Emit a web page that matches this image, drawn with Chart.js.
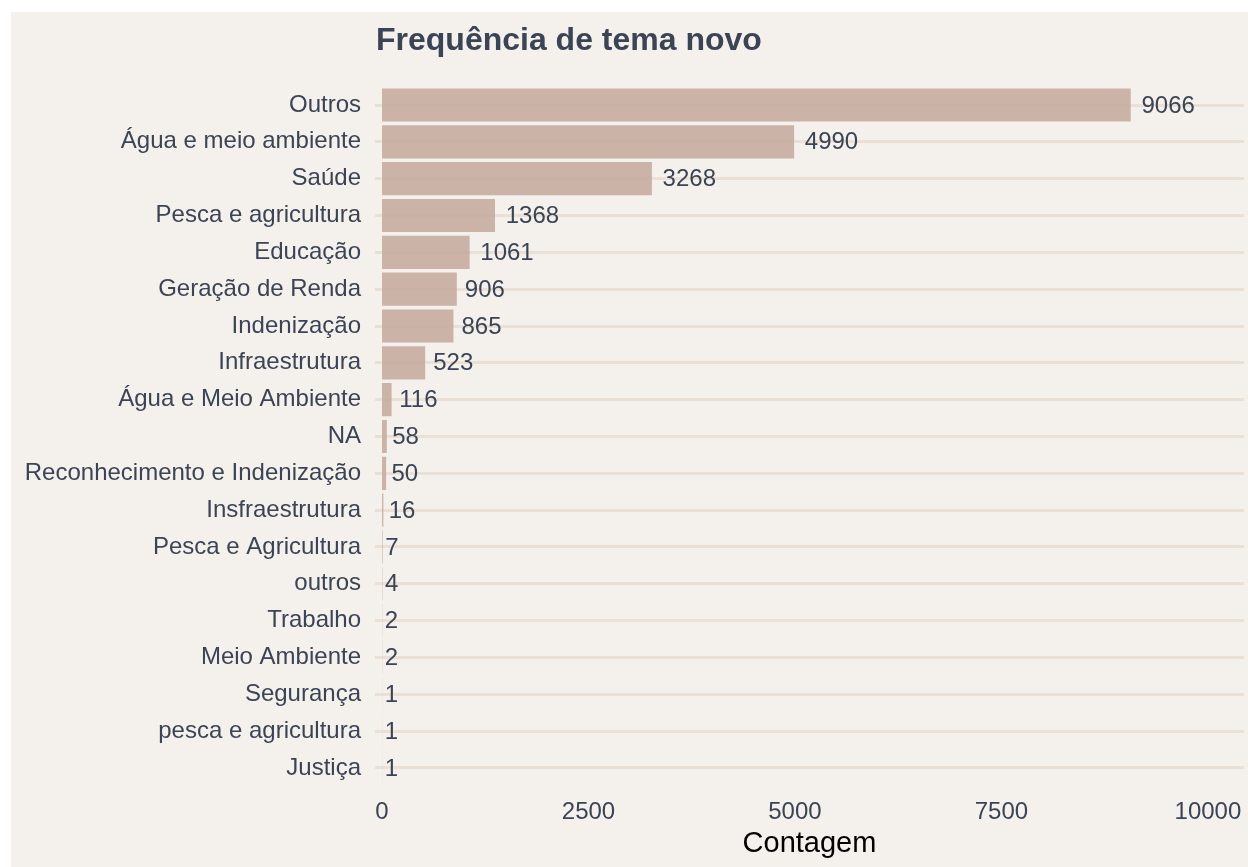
<!DOCTYPE html>
<html>
<head>
<meta charset="utf-8">
<title>Frequência de tema novo</title>
<script src="https://cdn.jsdelivr.net/npm/chart.js@4.4.1/dist/chart.umd.min.js"></script>
<style>
  html, body { margin: 0; padding: 0; background: #ffffff; overflow: hidden; }
  canvas { display: block; }
</style>
</head>
<body>
<canvas id="temaChart" width="1248" height="867"></canvas>
<script>
// Data
const categories = [
  'Outros', 'Água e meio ambiente', 'Saúde', 'Pesca e agricultura', 'Educação',
  'Geração de Renda', 'Indenização', 'Infraestrutura', 'Água e Meio Ambiente', 'NA',
  'Reconhecimento e Indenização', 'Insfraestrutura', 'Pesca e Agricultura', 'outros',
  'Trabalho', 'Meio Ambiente', 'Segurança', 'pesca e agricultura', 'Justiça'
];
const counts = [9066, 4990, 3268, 1368, 1061, 906, 865, 523, 116, 58, 50, 16, 7, 4, 2, 2, 1, 1, 1];
const xTicks = [0, 2500, 5000, 7500, 10000];

const titleText = 'Frequência de tema novo';
const axisTitle = 'Contagem';

const FONT = '"Liberation Sans", Arial, Helvetica, sans-serif';
const TEXT_COLOR = '#3b4455';

// Panel background (white margin top/left like the original export)
const backgroundPlugin = {
  id: 'panelBg',
  beforeDraw(chart) {
    const ctx = chart.ctx;
    ctx.save();
    ctx.fillStyle = '#ffffff';
    ctx.fillRect(0, 0, chart.width, chart.height);
    ctx.fillStyle = '#f4f1ec';
    ctx.fillRect(11, 12, chart.width - 11, chart.height - 12);
    ctx.restore();
  }
};

// Title aligned with the plot panel
const titlePlugin = {
  id: 'panelTitle',
  afterDraw(chart) {
    const ctx = chart.ctx;
    ctx.save();
    ctx.font = 'bold 32px ' + FONT;
    ctx.fillStyle = TEXT_COLOR;
    ctx.textAlign = 'left';
    ctx.textBaseline = 'alphabetic';
    ctx.fillText(titleText, chart.chartArea.left + 1, 50);
    ctx.restore();
  }
};

// Value labels to the right of each bar (hjust = -0.2 style offset)
const valueLabelPlugin = {
  id: 'valueLabels',
  afterDatasetsDraw(chart) {
    const ctx = chart.ctx;
    const meta = chart.getDatasetMeta(0);
    ctx.save();
    ctx.font = '24px ' + FONT;
    ctx.fillStyle = TEXT_COLOR;
    ctx.textAlign = 'left';
    ctx.textBaseline = 'middle';
    meta.data.forEach(function (bar, i) {
      const label = String(counts[i]);
      const w = ctx.measureText(label).width;
      ctx.fillText(label, bar.x + 0.2 * w, bar.y + 1);
    });
    ctx.restore();
  }
};

const ctx = document.getElementById('temaChart').getContext('2d');

const temaChart = new Chart(ctx, {
  type: 'bar',
  data: {
    labels: categories,
    datasets: [{
      label: 'Contagem',
      data: counts,
      backgroundColor: 'rgba(193, 165, 150, 0.8)',
      borderWidth: 0,
      barPercentage: 0.9,
      categoryPercentage: 1.0
    }]
  },
  options: {
    indexAxis: 'y',
    responsive: false,
    devicePixelRatio: 1,
    animation: false,
    layout: {
      padding: { top: 86.6, right: 4, bottom: 0, left: 0 }
    },
    scales: {
      x: {
        type: 'linear',
        min: -85,
        max: 10437,
        afterBuildTicks: function (scale) {
          scale.ticks = xTicks.map(v => ({ value: v }));
        },
        afterFit: function (scale) {
          scale.height = 80.6;
          scale.paddingLeft = 0;
          scale.paddingRight = 0;
        },
        grid: { display: false, drawTicks: false },
        border: { display: false },
        ticks: {
          color: TEXT_COLOR,
          font: { family: FONT, size: 24 },
          padding: 12,
          maxRotation: 0,
          autoSkip: false,
          callback: function (value) { return String(value); }
        },
        title: {
          display: true,
          text: axisTitle,
          color: '#000000',
          font: { family: FONT, size: 29 },
          padding: { top: 0, bottom: 6 }
        }
      },
      y: {
        type: 'category',
        offset: true,
        afterFit: function (scale) {
          scale.width = 375;
          scale.paddingTop = 0;
          scale.paddingBottom = 0;
        },
        grid: {
          color: '#ebe0d6',
          lineWidth: 3,
          drawTicks: false,
          offset: false
        },
        border: { display: false },
        ticks: {
          color: TEXT_COLOR,
          font: { family: FONT, size: 24 },
          padding: 14,
          autoSkip: false
        }
      }
    },
    plugins: {
      legend: { display: false },
      tooltip: { enabled: false },
      title: { display: false }
    }
  },
  plugins: [backgroundPlugin, titlePlugin, valueLabelPlugin]
});
</script>
</body>
</html>
